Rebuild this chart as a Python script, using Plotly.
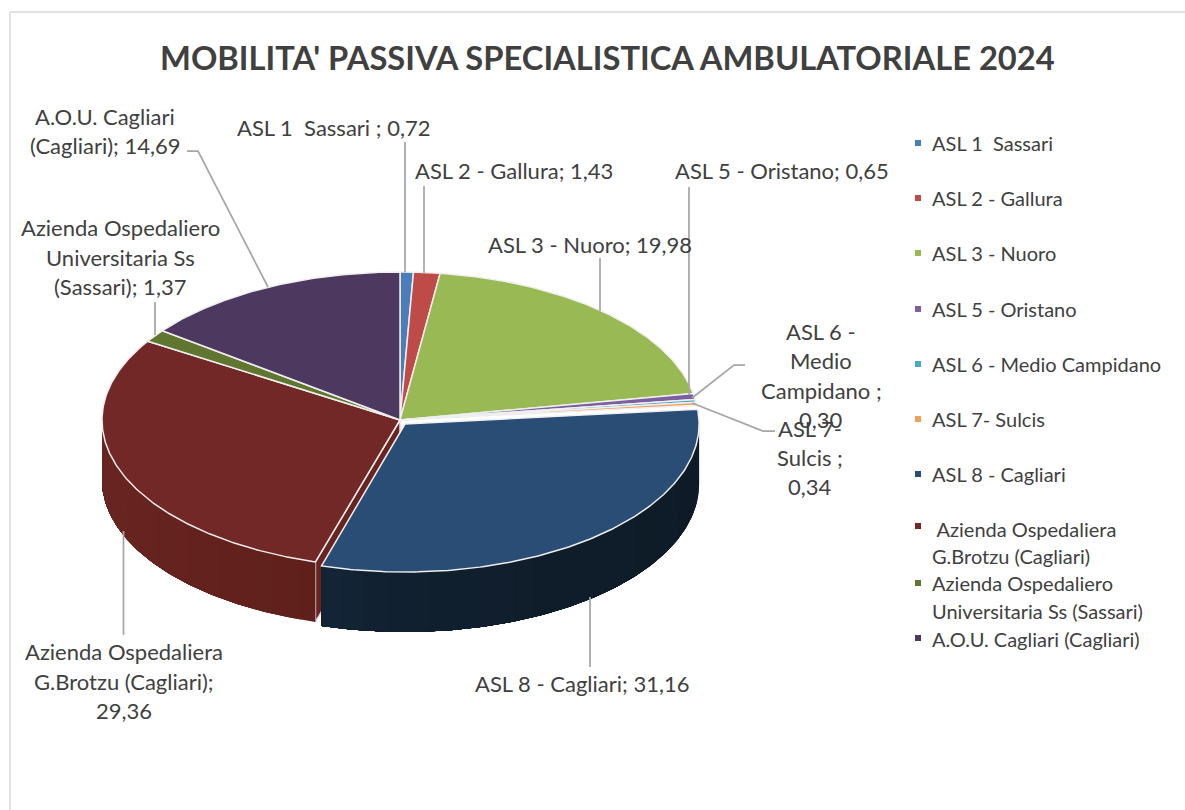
import numpy as np
import plotly.graph_objects as go

# ---- data ----
categories = ["ASL 1  Sassari", "ASL 2 - Gallura", "ASL 3 - Nuoro", "ASL 5 - Oristano",
              "ASL 6 - Medio Campidano", "ASL 7- Sulcis", "ASL 8 - Cagliari",
              "Azienda Ospedaliera G.Brotzu (Cagliari)",
              "Azienda Ospedaliero Universitaria Ss (Sassari)", "A.O.U. Cagliari (Cagliari)"]
values = [0.72, 1.43, 19.98, 0.65, 0.30, 0.34, 31.16, 29.36, 1.37, 14.69]
title_text = "MOBILITA' PASSIVA SPECIALISTICA AMBULATORIALE 2024"

label_lines = [
    ["ASL 1  Sassari ; 0,72"],
    ["ASL 2 - Gallura; 1,43"],
    ["ASL 3 - Nuoro; 19,98"],
    ["ASL 5 - Oristano; 0,65"],
    ["ASL 6 -", "Medio", "Campidano ;", "0,30"],
    ["ASL 7-", "Sulcis ;", "0,34"],
    ["ASL 8 - Cagliari; 31,16"],
    ["Azienda Ospedaliera", "G.Brotzu (Cagliari);", "29,36"],
    ["Azienda Ospedaliero", "Universitaria Ss", "(Sassari); 1,37"],
    ["A.O.U. Cagliari", "(Cagliari); 14,69"],
]
legend_lines = [
    ["ASL 1  Sassari"], ["ASL 2 - Gallura"], ["ASL 3 - Nuoro"], ["ASL 5 - Oristano"],
    ["ASL 6 - Medio Campidano"], ["ASL 7- Sulcis"], ["ASL 8 - Cagliari"],
    [" Azienda Ospedaliera", "G.Brotzu (Cagliari)"],
    ["Azienda Ospedaliero", "Universitaria Ss (Sassari)"],
    ["A.O.U. Cagliari (Cagliari)"],
]

# ---- styling / layout ----
colors = ["#4a7ebb", "#be4b48", "#98b954", "#7d5fa0", "#46aac4", "#f59d56",
          "#2a4d75", "#722826", "#5f7530", "#4d3960"]
W, H = 1185, 810
CX, CY, RX, RY, DEPTH = 400, 420, 298, 148, 60
offsets = {6: (5, 4)}
rx_scale = {6: 0.987}
TEXT = "#404040"
LEAD = "#a6a6a6"
label_xy = [(333, [127]), (514, [170]), (590, [244]), (782, [170]),
            (821, [331, 360, 390, 419]), (810, [428, 457, 486]), (582, [683]),
            (124, [651, 681, 710]), (120, [227, 257, 286]), (105, [116, 145])]
leaders = [[(405, 142), (405, 272)], [(424, 186), (424, 274)], [(600, 258), (600, 311)],
           [(689, 187), (689, 395)], [(692, 398), (734, 365), (745, 365)],
           [(692, 403), (763, 431), (775, 431)], [(590, 597), (590, 667)],
           [(123.5, 531), (123.5, 635)], [(155, 335), (155, 302)],
           [(187, 151), (198, 151), (268, 287)]]
legend_y = [[143], [198], [253], [309], [364], [419], [474], [529, 556], [583, 611], [639]]
legend_sq = [143, 198, 253, 309, 364, 419, 474, 526, 583, 638]


def mix(a, b, t):
    return "rgb(" + ",".join(str(int(round(a[i] + (b[i] - a[i]) * t))) for i in range(3)) + ")"


fig = go.Figure()
fractions = np.array(values) / sum(values)
ends = np.cumsum(fractions) * 2 * np.pi
starts = ends - fractions * 2 * np.pi


def arc(i, t0=None, t1=None, n=None):
    a = starts[i] if t0 is None else t0
    b = ends[i] if t1 is None else t1
    n = n or max(int((b - a) / 0.01), 2)
    th = np.linspace(a, b, n)
    ox, oy = offsets.get(i, (0, 0))
    return CX + ox + RX * rx_scale.get(i, 1) * np.sin(th), CY + oy - RY * np.cos(th)


# cut wall of the Brotzu slice, visible through the gap left by the exploded slice
ax, ay = arc(7, ends[6], ends[6], 2)
fig.add_trace(go.Scatter(x=[CX, ax[0], ax[0], CX, CX], y=[CY, ay[0], ay[0] + DEPTH, CY + DEPTH, CY],
                         mode="lines", fill="toself", fillcolor="#6a2420",
                         line=dict(color="#e8dcdc", width=1.5), hoverinfo="skip", showlegend=False))


# shaded sides, front half of the disc only: each band runs to the far end of
# the slice and the next one paints over it, so no seams appear between bands
def side(i, c0, c1, c2, reverse=False):
    a = max(starts[i], np.pi / 2)
    b = min(ends[i], 3 * np.pi / 2)
    edges = np.linspace(a, b, 26)
    bands = [(t, b) for t in edges[:-1]] if not reverse else [(a, t) for t in edges[:0:-1]]
    for t0, t1 in bands:
        x, y = arc(i, t0, t1)
        px = x[0] if not reverse else x[-1]
        pos = (px - (CX - RX)) / (2 * RX)
        col = mix(c0, c1, pos / 0.5) if pos < 0.5 else mix(c1, c2, (pos - 0.5) / 0.5)
        fig.add_trace(go.Scatter(x=np.r_[x, x[::-1], x[0]], y=np.r_[y, y[::-1] + DEPTH, y[0]],
                                 mode="lines", fill="toself", fillcolor=col,
                                 line=dict(width=0), hoverinfo="skip", showlegend=False))


side(7, (104, 36, 32), (92, 30, 26), (80, 24, 20))
side(6, (28, 54, 84), (17, 32, 48), (14, 27, 39))

# top faces
for i, (cat, val, col) in enumerate(zip(categories, values, colors)):
    x, y = arc(i)
    ox, oy = offsets.get(i, (0, 0))
    fig.add_trace(go.Scatter(x=np.r_[CX + ox, x, CX + ox], y=np.r_[CY + oy, y, CY + oy],
                             mode="lines", fill="toself", fillcolor=col,
                             line=dict(color="#efefef", width=1.5),
                             name=cat, text=f"{cat}: {val}", hoverinfo="text", showlegend=False))

# leader lines
for pts in leaders:
    fig.add_trace(go.Scatter(x=[p[0] for p in pts], y=[p[1] for p in pts], mode="lines",
                             line=dict(color=LEAD, width=1.75), hoverinfo="skip", showlegend=False))

# legend squares
fig.add_trace(go.Scatter(x=[918] * len(colors), y=legend_sq, mode="markers",
                         marker=dict(symbol="square", size=6, color=colors, line=dict(width=0)),
                         hoverinfo="skip", showlegend=False))

ann = []
FONT = "Lato, 'Open Sans', sans-serif"
for lines, (lx, ys) in zip(label_lines, label_xy):
    for s, ly in zip(lines, ys):
        ann.append(dict(x=lx, y=ly, text=s, xanchor="center", yanchor="middle", showarrow=False,
                        font=dict(family=FONT, size=22, color=TEXT)))
for lines, ys in zip(legend_lines, legend_y):
    for s, ly in zip(lines, ys):
        ann.append(dict(x=930, y=ly, text=s, xanchor="left", yanchor="middle", showarrow=False,
                        font=dict(family=FONT, size=20, color=TEXT)))
ann.append(dict(x=607, y=57, text=f"<b>{title_text}</b>", xanchor="center", yanchor="middle",
                showarrow=False, font=dict(family=FONT, size=32.7, color=TEXT)))

fig.update_layout(
    width=W, height=H, margin=dict(l=0, r=0, t=0, b=0),
    paper_bgcolor="white", plot_bgcolor="white", annotations=ann, showlegend=False,
    xaxis=dict(range=[0, W], visible=False, fixedrange=True),
    yaxis=dict(range=[H, 0], visible=False, fixedrange=True),
    shapes=[dict(type="line", x0=10, x1=10, y0=12, y1=H + 5, line=dict(color="#d9d9d9", width=1.5)),
            dict(type="line", x0=10, x1=W + 5, y0=12, y1=12, line=dict(color="#d9d9d9", width=1.5))],
)
fig.write_html("out.html", config={"displayModeBar": False},
               post_script="document.body.style.margin='0';")
